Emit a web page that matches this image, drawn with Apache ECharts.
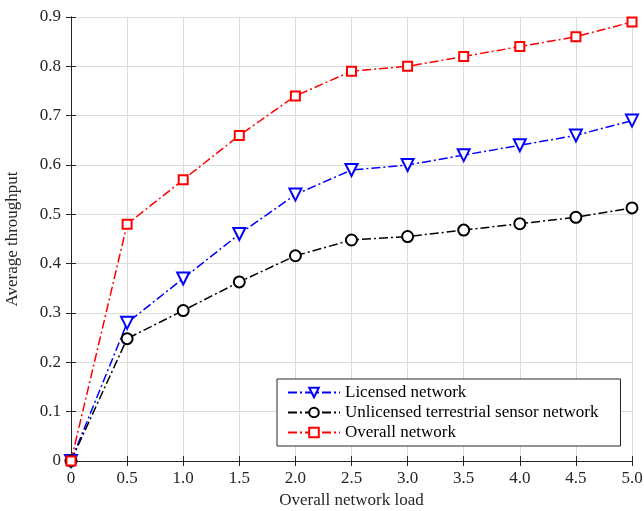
<!DOCTYPE html>
<html><head><meta charset="utf-8">
<script src="https://cdn.jsdelivr.net/npm/echarts@6/dist/echarts.min.js"></script>
<style>html,body{margin:0;padding:0;background:#fff}#c{width:644px;height:511px}</style>
</head><body><div id="c"></div>
<script>
const xLoad = [0, 0.5, 1.0, 1.5, 2.0, 2.5, 3.0, 3.5, 4.0, 4.5, 5.0];
const licensed = [0, 0.28, 0.37, 0.46, 0.54, 0.59, 0.60, 0.62, 0.64, 0.66, 0.69];
const unlicensed = [0, 0.248, 0.305, 0.363, 0.416, 0.448, 0.455, 0.468, 0.481, 0.494, 0.513];
const overall = [0, 0.48, 0.57, 0.66, 0.74, 0.79, 0.80, 0.82, 0.84, 0.86, 0.89];
const seriesNames = ['Licensed network', 'Unlicensed terrestrial sensor network', 'Overall network'];

const font = 'Liberation Serif';
const txt = '#262626';
const pairs = a => xLoad.map((x, i) => [x, a[i]]);
const dashDot = [9, 3, 2, 3];

const chart = echarts.init(document.getElementById('c'));
const baseAxis = {
  axisLine: { show: true, lineStyle: { color: '#262626', width: 1 } },
  axisTick: { show: true, inside: true, length: 5, lineStyle: { color: '#262626' } },
  minorTick: { show: false }
};
chart.setOption({
  animation: false,
  grid: { left: 71, right: 12, top: 17, bottom: 50, containLabel: false, outerBoundsMode: 'none' },
  xAxis: [
    Object.assign({}, baseAxis, {
      type: 'value', min: 0, max: 5, interval: 0.5,
      name: 'Overall network load', nameLocation: 'middle', nameGap: 28,
      nameTextStyle: { fontFamily: font, fontSize: 17, color: txt },
      axisLabel: { fontFamily: font, fontSize: 17, color: txt, margin: 9,
        formatter: v => v === 0 ? '0' : v.toFixed(1) },
      splitLine: { show: true, lineStyle: { color: '#dcdcdc', width: 1 } }
    }),
    Object.assign({}, baseAxis, {
      type: 'value', min: 0, max: 5, interval: 0.5, position: 'top',
      axisLabel: { show: false }, splitLine: { show: false }
    })
  ],
  yAxis: [
    Object.assign({}, baseAxis, {
      type: 'value', min: 0, max: 0.9, interval: 0.1,
      name: 'Average throughput', nameLocation: 'middle', nameGap: 50,
      nameTextStyle: { fontFamily: font, fontSize: 17, color: txt },
      axisLabel: { fontFamily: font, fontSize: 17, color: txt, margin: 10,
        formatter: v => v === 0 ? '0' : v.toFixed(1) },
      splitLine: { show: true, lineStyle: { color: '#dcdcdc', width: 1 } }
    }),
    Object.assign({}, baseAxis, {
      type: 'value', min: 0, max: 0.9, interval: 0.1, position: 'right',
      axisLabel: { show: false }, splitLine: { show: false }
    })
  ],
  legend: {
    left: 277, top: 379, width: 341, orient: 'vertical',
    backgroundColor: '#fff', borderColor: '#262626', borderWidth: 1,
    padding: [5, 22, 5, 10], itemGap: 3, itemWidth: 52, itemHeight: 12,
    textStyle: { fontFamily: font, fontSize: 17, color: '#000' },
    data: seriesNames
  },
  series: [
    { name: seriesNames[0], type: 'line', data: pairs(licensed), color: '#0000ff',
      symbol: 'emptyTriangle', symbolRotate: 180, symbolSize: 12,
      lineStyle: { width: 1.5, type: dashDot }, itemStyle: { borderWidth: 1.5 } },
    { name: seriesNames[1], type: 'line', data: pairs(unlicensed), color: '#000000',
      symbol: 'emptyCircle', symbolSize: 11,
      lineStyle: { width: 1.5, type: dashDot }, itemStyle: { borderWidth: 1.5 } },
    { name: seriesNames[2], type: 'line', data: pairs(overall), color: '#ff0000',
      symbol: 'emptyRect', symbolSize: 9,
      lineStyle: { width: 1.5, type: dashDot }, itemStyle: { borderWidth: 1.5 } }
  ]
});
</script></body></html>
